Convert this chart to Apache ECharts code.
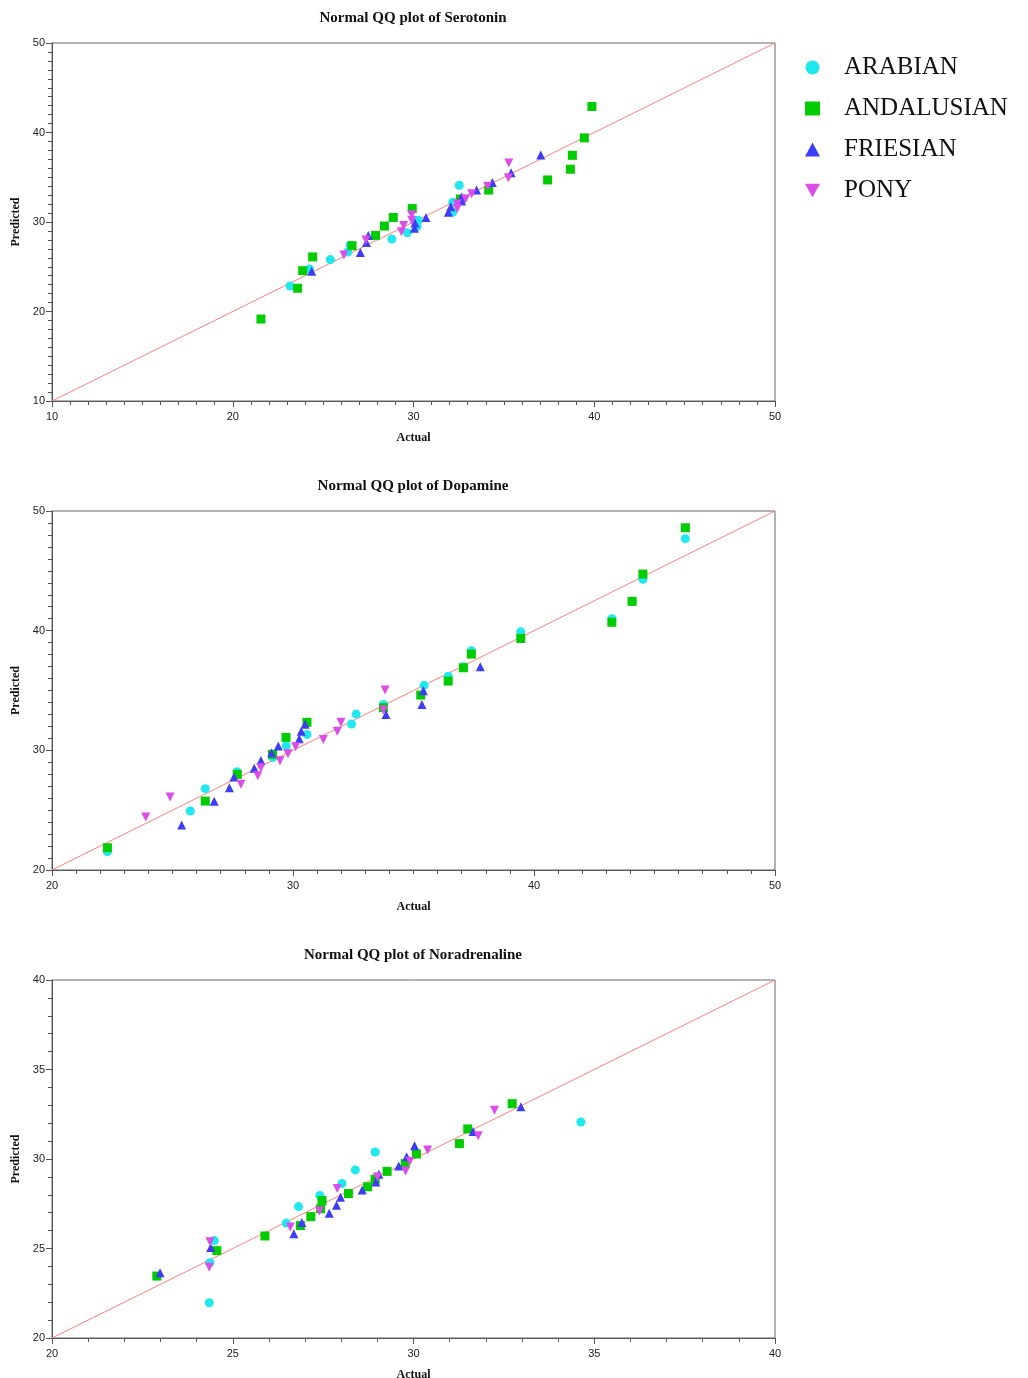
<!DOCTYPE html>
<html><head><meta charset="utf-8">
<script src="https://cdn.jsdelivr.net/npm/echarts@6/dist/echarts.min.js"></script>
<style>html,body{margin:0;padding:0;background:#fff}#c{width:1028px;height:1378px}</style>
</head><body><div id="c"></div>
<script>
const breeds = ['ARABIAN','ANDALUSIAN','FRIESIAN','PONY'];
const titles = ['Normal QQ plot of Serotonin','Normal QQ plot of Dopamine','Normal QQ plot of Noradrenaline'];
const axisMin = [10, 20, 20];
const axisMax = [50, 50, 40];
const axisInterval = [10, 10, 5];

const serArabian = [[23.17,22.85],[24.24,24.75],[25.4,25.8],[26.36,26.65],[26.5,27.4],[28.8,28.1],[29.66,28.8],[30.2,29.5],[30.25,30.2],[32.17,31.1],[32.17,32.2],[32.53,34.1]];
const serAndalusian = [[21.56,19.16],[23.59,22.6],[23.87,24.56],[24.42,26.1],[26.6,27.35],[27.9,28.5],[28.39,29.55],[28.88,30.5],[29.93,31.5],[32.59,32.57],[34.16,33.57],[37.42,34.7],[38.68,35.9],[38.79,37.45],[39.45,39.4],[39.87,42.9]];
const serFriesian = [[24.37,24.5],[27.06,26.6],[27.4,27.7],[27.5,28.5],[30.05,29.3],[30.08,29.9],[30.69,30.5],[31.93,31.1],[32.06,31.7],[32.66,32.35],[32.66,32.8],[33.49,33.57],[34.36,34.4],[35.4,35.5],[37.04,37.5]];
const serPony = [[26.15,26.3],[27.37,28.0],[29.33,28.9],[29.45,29.6],[29.9,30.8],[29.9,30.2],[32.42,31.5],[32.42,32.0],[32.88,32.57],[33.22,33.16],[34.1,34.0],[35.25,34.95],[35.27,36.6]];

const dopArabian = [[22.3,21.53],[25.74,24.93],[26.36,26.8],[27.68,28.2],[29.17,29.41],[29.72,30.38],[30.58,31.33],[32.43,32.2],[32.62,33.03],[33.75,33.84],[35.44,35.43],[36.44,36.2],[37.07,36.99],[37.4,38.32],[39.45,39.9],[43.23,41.0],[44.07,42.45],[44.52,44.29],[46.28,47.69]];
const dopAndalusian = [[22.3,21.86],[26.36,25.76],[27.69,27.99],[29.15,29.66],[29.71,31.08],[30.58,32.34],[33.75,33.56],[35.3,34.62],[36.44,35.79],[37.07,36.9],[37.4,38.04],[39.45,39.35],[43.23,40.7],[44.07,42.45],[44.52,44.73],[46.28,48.6]];
const dopFriesian = [[25.38,23.76],[26.73,25.74],[27.36,26.88],[27.55,27.77],[28.39,28.5],[28.67,29.16],[29.11,29.8],[29.39,30.36],[30.26,30.97],[30.34,31.6],[30.5,32.17],[33.86,33.0],[35.35,33.84],[35.41,34.98],[37.77,36.99]];
const dopPony = [[23.89,24.43],[24.9,26.1],[27.84,27.16],[28.54,27.88],[28.67,28.55],[29.46,29.13],[29.79,29.72],[30.11,30.3],[31.26,30.91],[31.84,31.6],[31.99,32.34],[33.82,35.04],[33.75,33.37]];

const norArabian = [[24.35,21.97],[24.37,24.21],[24.49,25.44],[26.48,26.42],[26.82,27.34],[27.41,27.96],[28.02,28.63],[28.39,29.39],[28.94,30.39],[34.63,32.07]];
const norAndalusian = [[22.9,23.46],[24.56,24.88],[25.89,25.7],[26.87,26.28],[27.16,26.78],[27.43,27.22],[27.47,27.68],[28.2,28.07],[28.73,28.45],[28.94,28.87],[29.27,29.31],[29.77,29.74],[30.08,30.28],[31.27,30.86],[31.5,31.68],[32.73,33.09]];
const norFriesian = [[22.99,23.65],[24.39,25.05],[26.69,25.83],[26.91,26.45],[27.67,26.97],[27.87,27.42],[27.98,27.87],[28.58,28.27],[28.96,28.72],[29.04,29.15],[29.59,29.61],[29.81,30.13],[30.03,30.74],[31.65,31.53],[32.97,32.92]];
const norPony = [[24.35,23.95],[24.37,25.38],[26.59,26.2],[27.4,27.1],[27.89,28.35],[29.0,29.0],[29.78,29.33],[29.9,29.87],[30.39,30.5],[31.79,31.3],[32.24,32.72]];

const panels = [
  [serArabian, serAndalusian, serFriesian, serPony],
  [dopArabian, dopAndalusian, dopFriesian, dopPony],
  [norArabian, norAndalusian, norFriesian, norPony]
];

const colors = ['#1fe8ef','#00cc00','#3d3df5','#dd4be9'];
const downTri = 'path://M0,0 L10,0 L5,9 Z';
const symbols = ['circle','rect','triangle',downTri];
const legendIcons = ['circle','rect','triangle',downTri];
const sizes = [9,9,9,9];

const tops = [43, 511, 980];
const gridH = [358, 359, 358];
const serif = '"Liberation Serif","DejaVu Serif",serif';
const sans = '"Liberation Sans",Arial,sans-serif';

const option = {
  animation:false,
  backgroundColor:'#fff',
  title: titles.map((t,i)=>({text:t, left:408, textAlign:'center', top: tops[i]-37,
    textStyle:{fontFamily:serif,fontWeight:'bold',fontSize:15,color:'#111'}})),
  legend:{
    data: breeds.map((b,i)=>({name:b, icon: legendIcons[i], itemStyle:{color:colors[i]}})),
    orient:'vertical', left:800, top:50, itemGap:16, itemWidth:15, itemHeight:14,
    textStyle:{fontFamily:serif,fontSize:25,color:'#111',padding:[0,0,0,19]}
  },
  grid: tops.map((t,i)=>({left:52, top:t, width:723, height:gridH[i], show:true, borderColor:'#666', borderWidth:1,
    containLabel:false, outerBoundsMode:'none'})),
  xAxis: tops.map((t,i)=>({type:'value', gridIndex:i, min:axisMin[i], max:axisMax[i], interval:axisInterval[i],
    name:'Actual', nameLocation:'middle', nameGap:31,
    nameTextStyle:{fontFamily:serif,fontWeight:'bold',fontSize:12,color:'#111'},
    axisLine:{show:true,lineStyle:{color:'#555',width:1}},
    axisTick:{show:true,length:6,lineStyle:{color:'#555'}},
    minorTick:{show:true,splitNumber:axisInterval[i],length:4,lineStyle:{color:'#555'}},
    splitLine:{show:false},
    axisLabel:{fontFamily:sans,fontSize:11,color:'#222',margin:10}})),
  yAxis: tops.map((t,i)=>({type:'value', gridIndex:i, min:axisMin[i], max:axisMax[i], interval:axisInterval[i],
    name:'Predicted', nameLocation:'middle', nameGap:27, nameRotate:90,
    nameTextStyle:{fontFamily:serif,fontWeight:'bold',fontSize:12,color:'#111'},
    axisLine:{show:true,lineStyle:{color:'#555',width:1}},
    axisTick:{show:true,length:6,lineStyle:{color:'#555'}},
    minorTick:{show:true,splitNumber:axisInterval[i],length:4,lineStyle:{color:'#555'}},
    splitLine:{show:false},
    axisLabel:{fontFamily:sans,fontSize:11,color:'#222',margin:7}})),
  series: []
};

panels.forEach((p,i)=>{
  option.series.push({type:'line', xAxisIndex:i, yAxisIndex:i, data:[[axisMin[i],axisMin[i]],[axisMax[i],axisMax[i]]],
    symbol:'none', lineStyle:{color:'#ff8080',width:1}, silent:true, z:1});
  p.forEach((d,j)=>{
    option.series.push({type:'scatter', name:breeds[j], xAxisIndex:i, yAxisIndex:i, data:d,
      symbol:symbols[j], symbolSize:sizes[j], itemStyle:{color:colors[j], opacity:1}, z:2+j});
  });
});

const chart = echarts.init(document.getElementById('c'), null, {renderer:'canvas'});
chart.setOption(option);
</script></body></html>
